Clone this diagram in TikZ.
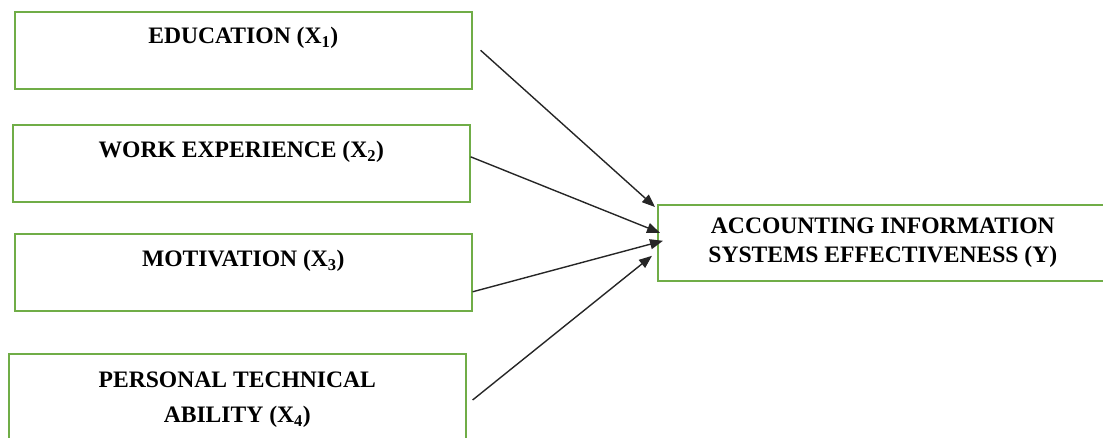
\documentclass[tikz,border=0pt]{standalone}
\usepackage{fontspec}
\setmainfont{Liberation Serif}
\usepackage{tikz}
\usetikzlibrary{arrows.meta, positioning}
\definecolor{boxgreen}{RGB}{112,173,71}

\begin{document}
\begin{tikzpicture}[
  x=1pt, y=-1pt,
  var/.style={draw=boxgreen, line width=1.6pt, inner sep=0pt, anchor=north west,
    minimum width=457pt, align=center,
    font=\fontsize{23.6}{29}\selectfont\bfseries},
  arr/.style={-{Triangle[length=13pt,width=10pt]}, line width=1.4pt, black!85}
]
  \useasboundingbox (0,0) rectangle (1103,438);
  % Independent variables
  \node[var, text height=32pt, text depth=45pt] (edu) at (14,11)
    {EDUCATION (X\textsubscript{1})};
  \node[var, text height=33pt, text depth=44pt] (wrk) at (12,124)
    {WORK EXPERIENCE (X\textsubscript{2})};
  \node[var, text height=33pt, text depth=44pt] (mot) at (14,233)
    {MOTIVATION (X\textsubscript{3})};
  \node[var, text height=69pt, text depth=48pt] (per) at (8,353)
    {PERSONAL TECHNICAL\\[6pt] ABILITY (X\textsubscript{4})};
  % Dependent variable
  \node[var, minimum width=450pt, text height=58pt, text depth=18pt] (ais) at (657,204)
    {ACCOUNTING INFORMATION\\ SYSTEMS EFFECTIVENESS (Y)};
  % Paths
  \draw[arr] ([shift={(8,0)}]edu.east) -- ([shift={(-2,3)}]ais.north west);
  \draw[arr] ([shift={(0,-6.5)}]wrk.east) -- ([shift={(3,-10)}]ais.west);
  \draw[arr] ([shift={(0,19.5)}]mot.east) -- ([shift={(6,-2)}]ais.west);
  \draw[arr] ([shift={(6,47)}]per.north east) -- ([shift={(-5,13)}]ais.west);
\end{tikzpicture}
\end{document}
